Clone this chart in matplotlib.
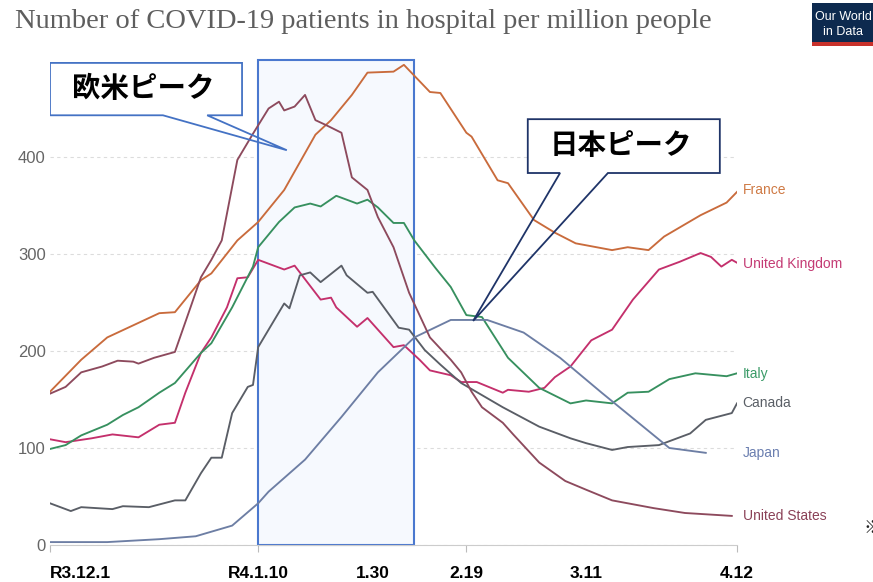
import numpy as np
import matplotlib
matplotlib.use("Agg")
import matplotlib.pyplot as plt
import matplotlib.dates as mdates
from matplotlib.patches import Rectangle, Polygon

plt.rcParams['font.family'] = ['Liberation Sans', 'Noto Sans CJK JP', 'DejaVu Sans']

# days counted from 2021-12-01 (R3.12.1)
start = mdates.date2num(np.datetime64('2021-12-01'))

france_days = [0, 6, 11, 17, 21, 24, 29, 31, 36, 40, 45, 51, 54, 58, 61, 66, 68, 73, 75, 80, 81,
               86, 88, 93, 97, 101, 108, 111, 115, 118, 125, 130, 132]
france_vals = [158, 191, 214, 229, 239, 240, 273, 280, 314, 333, 366, 423, 438, 464, 487, 488, 495,
               467, 466, 425, 421, 376, 373, 335, 322, 311, 304, 307, 304, 318, 340, 353, 364]

uk_days = [0, 3, 8, 12, 17, 21, 24, 26, 29, 31, 34, 36, 38, 40, 45, 47, 52, 54, 55, 59, 61, 66,
           68, 71, 73, 77, 79, 82, 87, 88, 92, 95, 97, 100, 104, 108, 112, 117, 121, 125, 127,
           129, 131, 132]
uk_vals = [109, 106, 110, 114, 111, 124, 126, 157, 198, 214, 245, 275, 276, 294, 284, 288, 253,
           255, 245, 225, 234, 204, 206, 191, 180, 175, 168, 168, 157, 160, 158, 162, 173, 184,
           211, 222, 253, 284, 292, 301, 297, 287, 294, 291]

italy_days = [0, 3, 6, 11, 14, 17, 21, 24, 29, 31, 35, 39, 40, 44, 47, 50, 52, 55, 59, 61, 63,
              66, 68, 70, 74, 77, 80, 83, 88, 94, 100, 103, 108, 111, 115, 119, 124, 130, 132]
italy_vals = [99, 103, 113, 124, 134, 142, 157, 167, 198, 208, 245, 287, 307, 333, 348, 352, 349,
              360, 352, 356, 348, 332, 332, 314, 286, 266, 237, 235, 193, 162, 146, 149, 146,
              157, 158, 171, 177, 174, 177]

canada_days = [0, 4, 6, 12, 14, 19, 24, 26, 29, 31, 33, 35, 38, 39, 40, 45, 46, 48, 50, 52, 56,
               57, 61, 62, 67, 69, 72, 75, 79, 87, 94, 100, 103, 108, 111, 117, 123, 126, 131, 132]
canada_vals = [43, 35, 39, 37, 40, 39, 46, 46, 74, 90, 90, 136, 163, 165, 204, 249, 244, 278, 281,
               271, 288, 278, 260, 261, 224, 222, 201, 186, 167, 142, 122, 110, 105, 98, 101,
               103, 115, 129, 136, 146]

japan_days = [0, 11, 21, 28, 35, 40, 42, 49, 56, 63, 70, 77, 84, 91, 98, 106, 119, 126]
japan_vals = [3, 3, 6, 9, 20, 43, 55, 88, 132, 178, 214, 232, 232, 219, 193, 157, 100, 95]

us_days = [0, 3, 6, 10, 13, 16, 17, 20, 24, 27, 29, 31, 33, 36, 39, 42, 44, 45, 47, 49, 51, 53,
           56, 58, 61, 63, 66, 69, 73, 77, 79, 81, 83, 87, 89, 94, 99, 103, 108, 116, 122, 131]
us_vals = [156, 163, 178, 184, 190, 189, 187, 193, 199, 245, 276, 294, 314, 397, 424, 450, 457,
           448, 452, 464, 438, 433, 425, 379, 366, 338, 307, 260, 214, 191, 178, 158, 142, 126,
           114, 85, 66, 57, 46, 38, 33, 30]

series = [
    ("France", france_days, france_vals, "#c96b3c", "#cf7a45", 366),
    ("United Kingdom", uk_days, uk_vals, "#c4306c", "#c43b74", 290),
    ("Italy", italy_days, italy_vals, "#37905f", "#3b9b68", 176),
    ("Canada", canada_days, canada_vals, "#5a5e66", "#5a5f66", 146),
    ("Japan", japan_days, japan_vals, "#6d7ea4", "#6b7fb0", 95),
    ("United States", us_days, us_vals, "#8d4a5d", "#8a4157", 30),
]

x_labels = ["R3.12.1", "R4.1.10", "1.30", "2.19", "3.11", "4.12"]
x_label_days = [0, 40, 62, 80, 103, 132]
tick_days = [0, 40, 80, 132]

fig = plt.figure(figsize=(8.73, 5.82), dpi=100)
ax = fig.add_axes([50 / 873, 37 / 582, 687 / 873, 485 / 582])

# peak period highlight
ax.axvspan(start + 40, start + 70, facecolor="#f6f9fe", edgecolor="#4a78cf",
           lw=1.5, zorder=1, clip_on=False)

for name, days, vals, col, tcol, label_y in series:
    ax.plot(start + np.array(days), vals, color=col, lw=1.35, zorder=3,
            solid_joinstyle="round")
    ax.annotate(name, xy=(1, label_y), xycoords=("axes fraction", "data"),
                xytext=(4, 0), textcoords="offset points", va="center",
                color=tcol, fontsize=10)

ax.set_xlim(start, start + 132)
ax.set_ylim(0, 500)
ax.set_yticks([0, 100, 200, 300, 400])
ax.tick_params(axis="y", length=0, pad=3, labelcolor="#666666", labelsize=12)
ax.set_xticks(start + np.array(tick_days))
ax.set_xticklabels([])
ax.tick_params(axis="x", length=5, color="#bbbbbb")
ax.yaxis.grid(True, ls=(0, (3, 3)), color="#dcdcdc", lw=0.8, zorder=0)
ax.set_axisbelow(True)
for s in ["top", "right", "left"]:
    ax.spines[s].set_visible(False)
ax.spines["bottom"].set_color("#cccccc")

for lab, d in zip(x_labels, x_label_days):
    ax.text(start + d, -0.058, lab, transform=ax.get_xaxis_transform(),
            ha="left" if d == 0 else "center", va="center",
            fontsize=12.5, fontweight="bold", color="black")


def callout(x0, x1, y0, y1, b0, b1, tip, text, ec):
    ax.add_patch(Rectangle((start + x0, y0), x1 - x0, y1 - y0, facecolor="white",
                           edgecolor="none", zorder=5))
    pts = [(x0, y0), (b0, y0), tip, (b1, y0), (x1, y0), (x1, y1), (x0, y1)]
    pts = [(start + px, py) for px, py in pts]
    ax.add_patch(Polygon(pts, closed=True, facecolor="none", edgecolor=ec,
                         lw=1.3, zorder=6, joinstyle="miter"))
    ax.text(start + (x0 + x1) / 2 - 0.5, (y0 + y1) / 2, text, ha="center", va="center",
            fontsize=20.5, fontweight="bold", family="Noto Sans CJK JP", zorder=7)


callout(0, 36.9, 443, 497, 21.7, 30.2, (45.5, 407), "欧米ピーク", "#4472c4")
callout(91.8, 128.7, 383.5, 439, 98.0, 107.2, (81.3, 231), "日本ピーク", "#1f3468")

fig.text(15 / 873, 1 - 21 / 582, "Number of COVID-19 patients in hospital per million people",
         family="Liberation Serif", fontsize=20.5, color="#5e5e5e", va="center")

# OWID logo
fig.patches.append(Rectangle((812 / 873, 1 - 42 / 582), 62 / 873, 39 / 582, facecolor="#0d2a4f",
                             edgecolor="none", transform=fig.transFigure))
fig.patches.append(Rectangle((812 / 873, 1 - 46 / 582), 62 / 873, 4 / 582, facecolor="#c8312b",
                             edgecolor="none", transform=fig.transFigure))
fig.text(843 / 873, 1 - 17 / 582, "Our World", color="white", fontsize=9,
         ha="center", va="center", fontstretch="condensed")
fig.text(843 / 873, 1 - 32 / 582, "in Data", color="white", fontsize=9,
         ha="center", va="center", fontstretch="condensed")

fig.text(864 / 873, 1 - 528 / 582, "※", family="Noto Sans CJK JP", fontsize=13,
         va="center", color="#222222")

fig.savefig("out.png", dpi=100)
